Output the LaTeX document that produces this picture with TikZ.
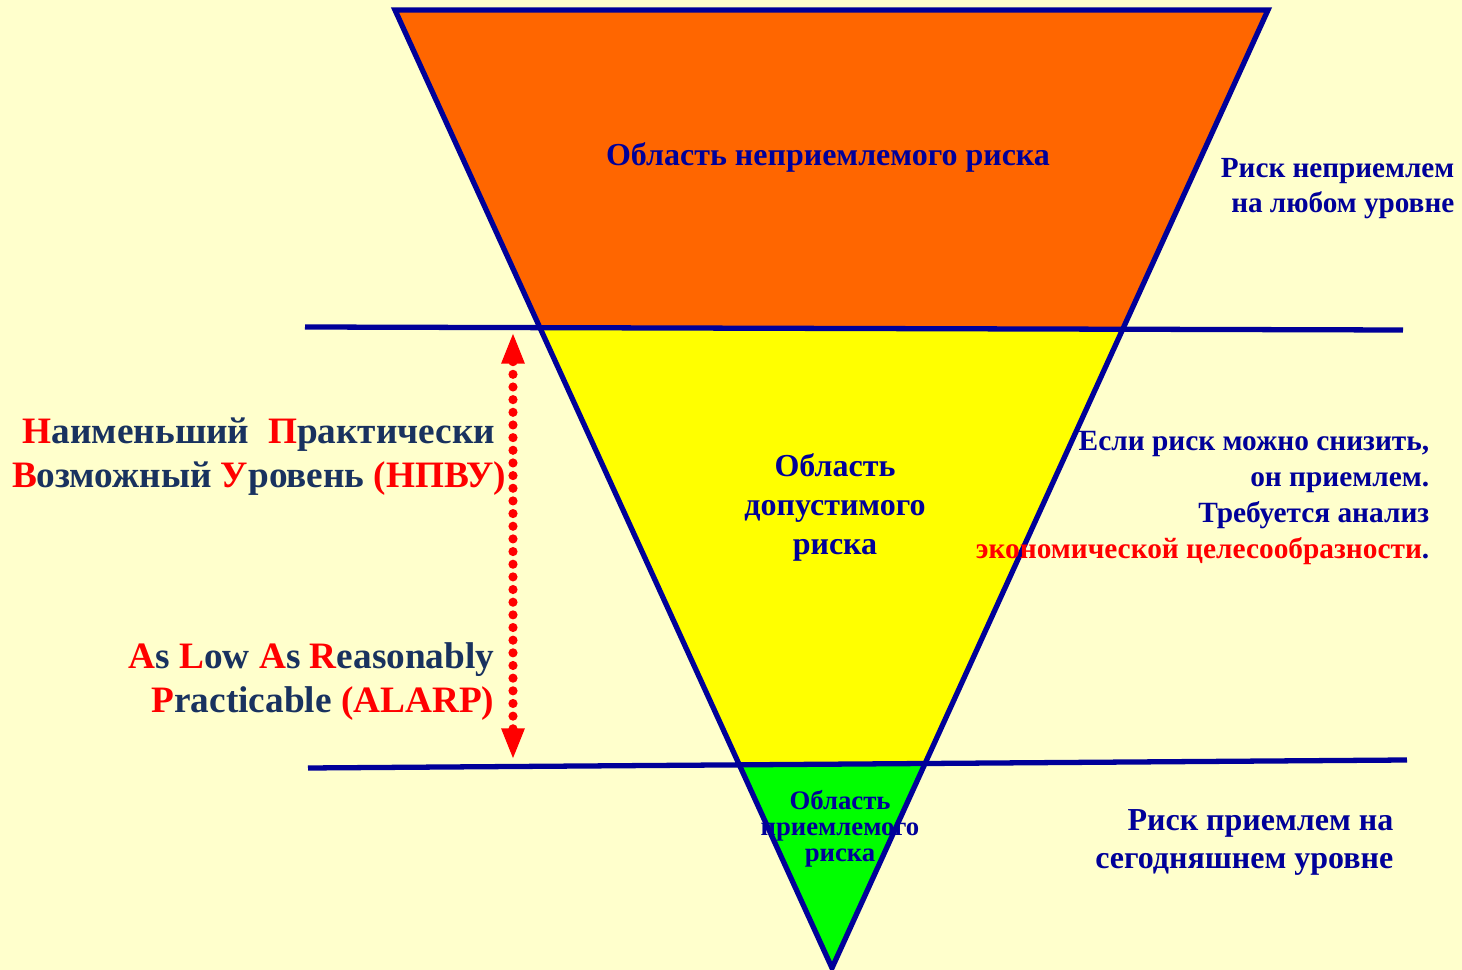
\documentclass[tikz,border=0pt]{standalone}
\usepackage{fontspec}
\setmainfont{Liberation Serif}
\usetikzlibrary{arrows.meta}
\definecolor{bgpaper}{HTML}{FFFFCC}
\definecolor{navyline}{HTML}{000099}
\definecolor{slateblue}{RGB}{25,50,95}
\definecolor{riskorange}{HTML}{FF6600}
\definecolor{riskyellow}{HTML}{FFFF00}
\definecolor{riskgreen}{HTML}{00FF00}
\newcommand{\rr}[1]{\textcolor{red}{#1}}
\tikzset{
	border/.style={draw=navyline, line width=1.5pt, line join=miter},
	level/.style={color=navyline, line width=1.5pt},
	zonelabel/.style={font=\bfseries, text=navyline, align=center, inner sep=0},
	sidelabel/.style={font=\bfseries, text=navyline, align=right, inner sep=0},
	leftlabel/.style={font=\bfseries, text=slateblue, inner sep=0},
	dotarrow/.style={{Triangle[width=6pt,length=9pt]}-{Triangle[width=6pt,length=9pt]}, color=red, line width=2.6pt, line cap=round, dash pattern=on 0pt off 3.6pt}
}
\begin{document}
\begin{tikzpicture}[x=0.01cm,y=-0.01cm]
		%%% background
		\fill[bgpaper] (0,0) rectangle (1462,970);
		\useasboundingbox (0,0) rectangle (1462,970);
		
		%%% triangle corners
		\coordinate (tl) at (395,10);
		\coordinate (tr) at (1268,10);
		\coordinate (apex) at (832,968);
		\coordinate (ul) at (539.6,327.6);
		\coordinate (ur) at (1123.7,329);
		\coordinate (ll) at (739.4,764.9);
		\coordinate (lr) at (924.4,763.5);
		
		%%% zones
		\fill[riskorange] (tl) -- (tr) -- (ur) -- (ul) -- cycle;
		\fill[riskyellow] (ul) -- (ur) -- (lr) -- (ll) -- cycle;
		\fill[riskgreen] (ll) -- (lr) -- (apex) -- cycle;
		\draw[border] (tl) -- (tr) -- (apex) -- cycle;
		
		%%% levels
		\coordinate (a1) at (305,327);
		\coordinate (a2) at (1403,330);
		\coordinate (b1) at (308,768);
		\coordinate (b2) at (1407,760);
		\draw[level] (a1) -- (a2);
		\draw[level] (b1) -- (b2);
		
		%%% ALARP arrow
		\coordinate (up) at (513,332);
		\coordinate (down) at (513,760);
		\draw[dotarrow] (up) -- (down);
		
		%%% zone labels
		\node[zonelabel,font=\bfseries\fontsize{9.1}{10}\selectfont] (bad) at (828,157) {Область неприемлемого риска};
		\node[zonelabel,font=\bfseries\fontsize{9.1}{11.1}\selectfont] (mid) at (835,507) {Область\\допустимого\\риска};
		\node[zonelabel,font=\bfseries\fontsize{7.6}{7.4}\selectfont] (good) at (840,829) {Область\\приемлемого\\риска};
		
		%%% side labels
		\node[sidelabel,anchor=east,font=\bfseries\fontsize{8.3}{10}\selectfont] (badnote) at (1455,189) {Риск неприемлем\\на любом уровне};
		\node[sidelabel,anchor=east,font=\bfseries\fontsize{8.35}{10.2}\selectfont] (midnote) at (1430,498) {Если риск можно снизить,\\он приемлем.\\Требуется анализ\\\rr{экономической целесообразности}.};
		\node[sidelabel,anchor=east,font=\bfseries\fontsize{9.1}{10.8}\selectfont] (goodnote) at (1394,842) {Риск приемлем на\\сегодняшнем уровне};
		
		\node[leftlabel,align=center,font=\bfseries\fontsize{10.6}{12.5}\selectfont] (npvu) at (259,457) {\rr{Н}аименьший\ \ \rr{П}рактически\\\rr{В}озможный \rr{У}ровень \rr{(НПВУ)}};
		\node[leftlabel,align=right,anchor=east,font=\bfseries\fontsize{10.6}{12.5}\selectfont] (alarp) at (495,682) {\rr{A}s \rr{L}ow \rr{A}s \rr{R}easonably\\\rr{P}racticable \rr{(ALARP)}};
	\end{tikzpicture}
\end{document}
